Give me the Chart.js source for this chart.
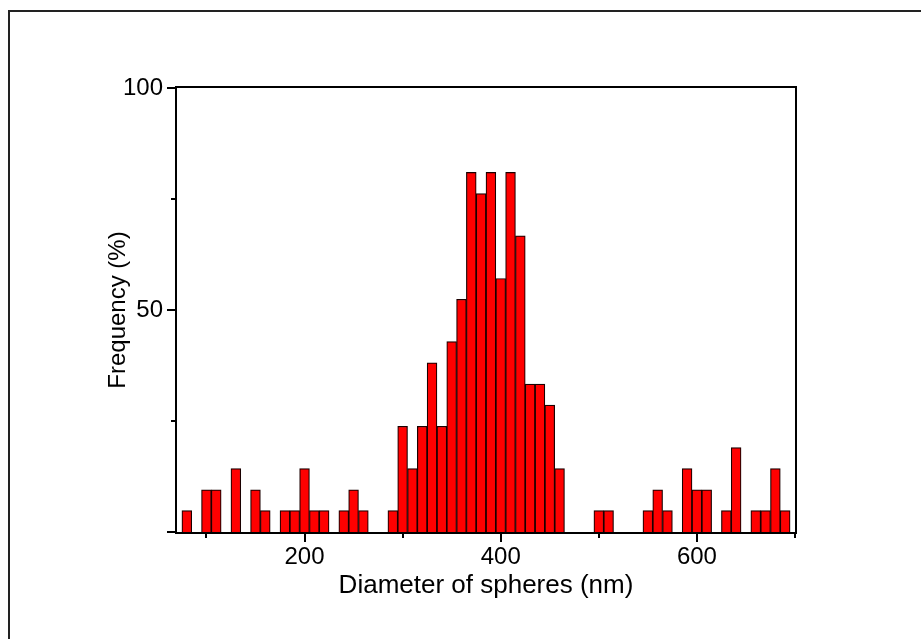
<!DOCTYPE html>
<html>
<head>
<meta charset="utf-8">
<script src="https://cdn.jsdelivr.net/npm/chart.js@4/dist/chart.umd.min.js"></script>
<style>
  html, body { margin: 0; padding: 0; background: #fff; overflow: hidden; }
  #frame { position: absolute; left: 8px; top: 10px; width: 1000px; height: 1000px; border: 2px solid #222; }
  #chart { position: absolute; left: 0; top: 0; }
</style>
</head>
<body>
<div id="frame"></div>
<canvas id="chart" width="921" height="639"></canvas>
<script>
// DADOS
const diameters = [80, 90, 100, 110, 120, 130, 140, 150, 160, 170, 180, 190, 200, 210, 220, 230, 240, 250, 260, 270,
  280, 290, 300, 310, 320, 330, 340, 350, 360, 370, 380, 390, 400, 410, 420, 430, 440, 450, 460, 470,
  480, 490, 500, 510, 520, 530, 540, 550, 560, 570, 580, 590, 600, 610, 620, 630, 640, 650, 660, 670, 680, 690];
const frequency = [4.8, 0, 9.5, 9.5, 0, 14.3, 0, 9.5, 4.8, 0, 4.8, 4.8, 14.3, 4.8, 4.8, 0, 4.8, 9.5, 4.8, 0,
  0, 4.8, 23.8, 14.3, 23.8, 38.1, 23.8, 42.9, 52.4, 81.0, 76.2, 81.0, 57.1, 81.0, 66.7, 33.3, 33.3, 28.6, 14.3, 0,
  0, 0, 4.8, 4.8, 0, 0, 0, 4.8, 9.5, 4.8, 0, 14.3, 9.5, 9.5, 0, 4.8, 19.0, 0, 4.8, 4.8, 14.3, 4.8];
const xTicks = [100, 200, 300, 400, 500, 600, 700];
const xLabels = [200, 400, 600];
const yTicks = [0, 25, 50, 75, 100];
const yLabels = [50, 100];

const FONT = "'Liberation Sans', Arial, sans-serif";

// EIXOS + MARCAS
const frameAxes = {
  id: 'frameAxes',
  afterDraw(chart) {
    const c = chart.ctx;
    const a = chart.chartArea;
    const sx = chart.scales.x, sy = chart.scales.y;
    c.save();
    c.strokeStyle = '#000';
    c.lineWidth = 2;
    c.beginPath();
    c.moveTo(a.left - 1, a.top - 1);
    c.lineTo(a.right + 1, a.top - 1);
    c.lineTo(a.right + 1, a.bottom + 1);
    c.lineTo(a.left - 1, a.bottom + 1);
    c.closePath();
    c.stroke();

    c.beginPath();
    xTicks.forEach(v => {
      const px = Math.round(sx.getPixelForValue(v));
      const len = xLabels.includes(v) ? 9 : 5;
      c.moveTo(px, a.bottom + 1);
      c.lineTo(px, a.bottom + 1 + len);
    });
    yTicks.forEach(v => {
      const py = Math.round(sy.getPixelForValue(v));
      const len = yLabels.includes(v) || v === 0 ? 9 : 5;
      c.moveTo(a.left - 1, py);
      c.lineTo(a.left - 1 - len, py);
    });
    c.stroke();
    c.restore();
  }
};

new Chart(document.getElementById('chart'), {
  type: 'bar',
  data: {
    datasets: [{
      data: diameters.map((d, i) => ({ x: d, y: frequency[i] })),
      backgroundColor: '#ff0000',
      borderColor: '#1a0000',
      borderWidth: 1.2,
      barPercentage: 1,
      categoryPercentage: 1
    }]
  },
  options: {
    responsive: false,
    animation: false,
    layout: { padding: { left: 0, right: 126, top: 88, bottom: 0 } },
    plugins: { legend: { display: false }, tooltip: { enabled: false } },
    scales: {
      x: {
        type: 'linear',
        offset: false,
        min: 70,
        max: 700,
        grid: { display: false, drawTicks: false, tickLength: 0 },
        border: { display: false },
        afterBuildTicks: s => { s.ticks = xTicks.map(v => ({ value: v })); },
        afterFit: s => { s.height = 107; },
        ticks: {
          autoSkip: false,
          maxRotation: 0,
          padding: 11,
          color: '#000',
          font: { family: FONT, size: 24 },
          callback: v => xLabels.includes(v) ? String(v) : ''
        },
        title: {
          display: true,
          text: 'Diameter of spheres (nm)',
          color: '#000',
          font: { family: FONT, size: 26 },
          padding: { top: 0, bottom: 38 }
        }
      },
      y: {
        min: 0,
        max: 100,
        grid: { display: false, drawTicks: false, tickLength: 0 },
        border: { display: false },
        afterBuildTicks: s => { s.ticks = yTicks.map(v => ({ value: v })); },
        afterFit: s => { s.width = 177; },
        ticks: {
          autoSkip: false,
          padding: 14,
          color: '#000',
          font: { family: FONT, size: 24 },
          callback: v => yLabels.includes(v) ? String(v) : ''
        },
        title: {
          display: true,
          text: 'Frequency (%)',
          color: '#000',
          font: { family: FONT, size: 24 },
          padding: { top: 104, bottom: 0 }
        }
      }
    }
  },
  plugins: [frameAxes]
});
</script>
</body>
</html>
